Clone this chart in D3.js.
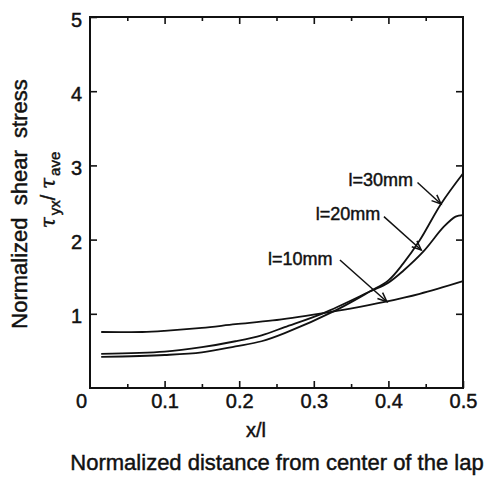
<!DOCTYPE html>
<html>
<head>
<meta charset="utf-8">
<script src="https://cdn.jsdelivr.net/npm/d3@7"></script>
<style>
  body { margin: 0; background: #fff; }
  svg { display: block; }
  text { font-family: "Liberation Sans", Arial, Helvetica, sans-serif; fill: #111; stroke: #111; stroke-width: 0.45px; }
</style>
</head>
<body>
<svg id="chart" width="489" height="477"></svg>
<script>
// ---- data ----
const seriesNames = ["l=10mm", "l=20mm", "l=30mm"];
const xL10 = [0.015, 0.07, 0.10, 0.15, 0.195, 0.245, 0.313, 0.349, 0.395, 0.442, 0.5];
const yL10 = [0.755, 0.755, 0.77, 0.81, 0.86, 0.91, 1.01, 1.07, 1.16, 1.27, 1.44];
const xL20 = [0.015, 0.10, 0.15, 0.195, 0.23, 0.261, 0.313, 0.375, 0.40, 0.42, 0.447, 0.474, 0.49, 0.5];
const yL20 = [0.46, 0.49, 0.55, 0.63, 0.71, 0.82, 1.01, 1.30, 1.42, 1.58, 1.84, 2.17, 2.31, 2.33];
const xL30 = [0.015, 0.10, 0.15, 0.195, 0.23, 0.261, 0.33, 0.375, 0.40, 0.42, 0.442, 0.4705, 0.5];
const yL30 = [0.42, 0.445, 0.48, 0.56, 0.63, 0.74, 1.05, 1.30, 1.45, 1.68, 1.99, 2.48, 2.89];
const xMajorTicks = [0.1, 0.2, 0.3, 0.4, 0.5];
const xMinorTicks = [0.05, 0.15, 0.25, 0.35, 0.45];
const xTickLabels = ["0.1", "0.2", "0.3", "0.4", "0.5"];
const yMajorTicks = [1, 2, 3, 4, 5];
const yTickLabels = ["1", "2", "3", "4", "5"];

const svg = d3.select("#chart");
const x = d3.scaleLinear().domain([0, 0.5]).range([90, 463]);
const y = d3.scaleLinear().domain([0, 5]).range([388, 17]);

// frame
svg.append("rect")
  .attr("x", x(0)).attr("y", y(5))
  .attr("width", x(0.5) - x(0)).attr("height", y(0) - y(5))
  .attr("fill", "none").attr("stroke", "#111").attr("stroke-width", 2);

// axes (inward ticks)
const styleAxis = g => { g.select(".domain").remove(); g.selectAll("line").attr("stroke", "#111").attr("stroke-width", 1.6); };

svg.append("g").attr("transform", `translate(0,${y(0)})`)
  .call(d3.axisBottom(x).tickValues(xMajorTicks).tickSize(-7).tickPadding(6)
    .tickFormat((d, i) => xTickLabels[i]))
  .call(styleAxis)
  .call(g => g.selectAll("text").attr("font-size", 20).attr("fill", "#111"));
svg.append("g").attr("transform", `translate(0,${y(0)})`)
  .call(d3.axisBottom(x).tickValues(xMinorTicks).tickSize(-4).tickFormat(""))
  .call(styleAxis);
svg.append("g").attr("transform", `translate(0,${y(5)})`)
  .call(d3.axisTop(x).tickValues(xMajorTicks.slice(0, 4)).tickSize(-7).tickFormat(""))
  .call(styleAxis);
svg.append("g").attr("transform", `translate(0,${y(5)})`)
  .call(d3.axisTop(x).tickValues(xMinorTicks).tickSize(-4).tickFormat(""))
  .call(styleAxis);
svg.append("g").attr("transform", `translate(${x(0)},0)`)
  .call(d3.axisLeft(y).tickValues(yMajorTicks).tickSize(-7).tickPadding(8)
    .tickFormat((d, i) => yTickLabels[i]))
  .call(styleAxis)
  .call(g => g.selectAll("text").attr("font-size", 20).attr("dy", "0.45em").attr("fill", "#111"));
svg.append("g").attr("transform", `translate(${x(0.5)},0)`)
  .call(d3.axisRight(y).tickValues(yMajorTicks.slice(0, 4)).tickSize(-7).tickFormat(""))
  .call(styleAxis);

// origin label
svg.append("text").attr("x", x(0) - 8.5).attr("y", y(0) + 20)
  .attr("text-anchor", "middle").attr("font-size", 20).text("0");

// curves
const line = d3.line().x(d => x(d[0])).y(d => y(d[1])).curve(d3.curveCatmullRom.alpha(0.5));
const series = [
  d3.zip(xL10, yL10),
  d3.zip(xL20, yL20),
  d3.zip(xL30, yL30)
];
svg.append("g").selectAll("path").data(series).join("path")
  .attr("d", line).attr("fill", "none").attr("stroke", "#111").attr("stroke-width", 1.8);

// annotations with open arrowheads
const notes = [
  { label: seriesNames[2], tx: 0.433, ty: 2.72, x1: 0.439, y1: 2.77, x2: 0.4705, y2: 2.48 },
  { label: seriesNames[1], tx: 0.389, ty: 2.27, x1: 0.394, y1: 2.31, x2: 0.444, y2: 1.86 },
  { label: seriesNames[0], tx: 0.325, ty: 1.66, x1: 0.335, y1: 1.725, x2: 0.398, y2: 1.163 }
];
const ng = svg.append("g");
notes.forEach(n => {
  ng.append("text").attr("x", x(n.tx)).attr("y", y(n.ty))
    .attr("text-anchor", "end").attr("font-size", 18).text(n.label);
  const X1 = x(n.x1), Y1 = y(n.y1), X2 = x(n.x2), Y2 = y(n.y2);
  ng.append("line").attr("x1", X1).attr("y1", Y1).attr("x2", X2).attr("y2", Y2)
    .attr("stroke", "#111").attr("stroke-width", 1.5);
  const a = Math.atan2(Y2 - Y1, X2 - X1), L = 10, w = 0.4;
  const p1 = [X2 - L * Math.cos(a - w), Y2 - L * Math.sin(a - w)];
  const p2 = [X2 - L * Math.cos(a + w), Y2 - L * Math.sin(a + w)];
  ng.append("path").attr("d", `M${p1}L${X2},${Y2}L${p2}`)
    .attr("fill", "none").attr("stroke", "#111").attr("stroke-width", 1.5);
});

// axis titles
svg.append("text").attr("x", 256).attr("y", 437).attr("text-anchor", "middle")
  .attr("font-size", 20).text("x/l");
svg.append("text").attr("x", 277).attr("y", 470).attr("text-anchor", "middle")
  .attr("font-size", 22).text("Normalized distance from center of the lap");
svg.append("text").attr("transform", "translate(27,204) rotate(-90)")
  .attr("text-anchor", "middle").attr("font-size", 22).attr("xml:space", "preserve")
  .text("Normalized  shear  stress");

const tau = svg.append("text").attr("transform", "translate(55,190) rotate(-90)")
  .attr("text-anchor", "middle").attr("font-size", 20).attr("xml:space", "preserve");
tau.append("tspan").attr("font-family", "'DejaVu Serif', serif").attr("font-style", "italic").text("τ");
tau.append("tspan").attr("font-size", 15).attr("dy", 5).attr("dx", 2).text("yx");
tau.append("tspan").attr("dy", -5).text("/ ");
tau.append("tspan").attr("font-family", "'DejaVu Serif', serif").attr("font-style", "italic").text("τ");
tau.append("tspan").attr("font-size", 15).attr("dy", 5).attr("dx", 2).text("ave");
</script>
</body>
</html>
